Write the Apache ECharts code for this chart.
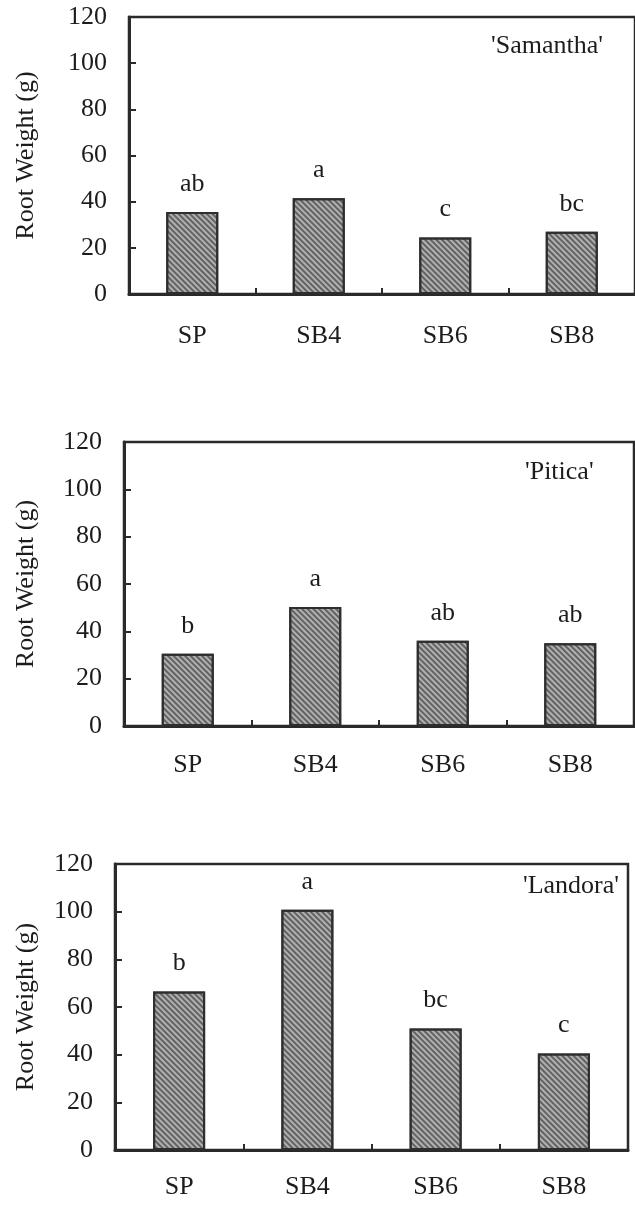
<!DOCTYPE html>
<html>
<head>
<meta charset="utf-8">
<script src="https://cdn.jsdelivr.net/npm/echarts@6/dist/echarts.min.js"></script>
<style>
html,body{margin:0;padding:0;background:#fff;}
#chart{width:635px;height:1207px;}
</style>
</head>
<body>
<div id="chart"></div>
<script>
// ---- data ----
var categories = ['SP', 'SB4', 'SB6', 'SB8'];
var yTicks = [0, 20, 40, 60, 80, 100, 120];
var varieties = ["'Samantha'", "'Pitica'", "'Landora'"];
var samanthaValues = [35.5, 41.5, 24.5, 27.0];
var piticaValues = [30.5, 50.3, 36.0, 35.0];
var landoraValues = [66.5, 100.8, 51.0, 40.5];
var samanthaLetters = ['ab', 'a', 'c', 'bc'];
var piticaLetters = ['b', 'a', 'ab', 'ab'];
var landoraLetters = ['b', 'a', 'bc', 'c'];
var yAxisTitle = 'Root Weight (g)';

// ---- layout / style ----
var FONT = '"Liberation Serif", "DejaVu Serif", serif';
var INK = '#1c1c1c';
var panels = [
  {left: 129, right: -6, top: 17, height: 277, values: samanthaValues, letters: samanthaLetters, name: varieties[0], nameX: 491, nameY: 48, catMargin: 29, nameGap: 90},
  {left: 124, right: 1, top: 442, height: 284, values: piticaValues, letters: piticaLetters, name: varieties[1], nameX: 525, nameY: 474, catMargin: 26, nameGap: 85},
  {left: 115, right: 7, top: 864, height: 286, values: landoraValues, letters: landoraLetters, name: varieties[2], nameX: 523, nameY: 888, catMargin: 24, nameGap: 76}
];

var grids = [], xAxes = [], yAxes = [], series = [], graphics = [];
panels.forEach(function (p, i) {
  grids.push({left: p.left, right: p.right, top: p.top, height: p.height, show: true,
    borderColor: '#2a2a2a', borderWidth: 2.5, backgroundColor: 'transparent'});
  xAxes.push({
    type: 'category', gridIndex: i, data: categories,
    axisLine: {lineStyle: {color: '#2a2a2a', width: 3}},
    axisTick: {show: true, inside: true, length: 6, lineStyle: {color: '#2a2a2a', width: 2}},
    axisLabel: {color: INK, fontFamily: FONT, fontSize: 26, margin: p.catMargin},
    splitLine: {show: false}
  });
  yAxes.push({
    type: 'value', gridIndex: i, min: yTicks[0], max: yTicks[yTicks.length - 1], interval: yTicks[1] - yTicks[0],
    name: yAxisTitle, nameLocation: 'middle', nameRotate: 90, nameGap: p.nameGap,
    nameTextStyle: {color: INK, fontFamily: FONT, fontSize: 26},
    axisLine: {show: true, lineStyle: {color: '#2a2a2a', width: 3}},
    axisTick: {show: true, inside: true, length: 7, lineStyle: {color: '#2a2a2a', width: 2}},
    axisLabel: {color: INK, fontFamily: FONT, fontSize: 26, margin: 22},
    splitLine: {show: false}
  });
  series.push({
    type: 'bar', xAxisIndex: i, yAxisIndex: i, data: p.values, barWidth: 52,
    itemStyle: {
      color: '#b0b0b0', borderColor: '#2e2e2e', borderWidth: 2,
      decal: {symbol: 'rect', color: 'rgba(35,35,35,0.55)', dashArrayX: [1, 0], dashArrayY: [2, 2], rotation: Math.PI / 4, symbolSize: 1}
    },
    label: {
      show: true, position: 'top', distance: 15, color: INK, fontFamily: FONT, fontSize: 26,
      formatter: (function (letters) { return function (d) { return letters[d.dataIndex]; }; })(p.letters)
    },
    silent: true, animation: false
  });
  graphics.push({type: 'text', left: p.nameX, top: p.nameY - 15,
    style: {text: p.name, fill: INK, font: '26px ' + FONT}});
});

var chart = echarts.init(document.getElementById('chart'), null, {renderer: 'canvas'});
chart.setOption({
  backgroundColor: '#ffffff',
  animation: false,
  grid: grids, xAxis: xAxes, yAxis: yAxes, series: series, graphic: graphics
});
</script>
</body>
</html>
